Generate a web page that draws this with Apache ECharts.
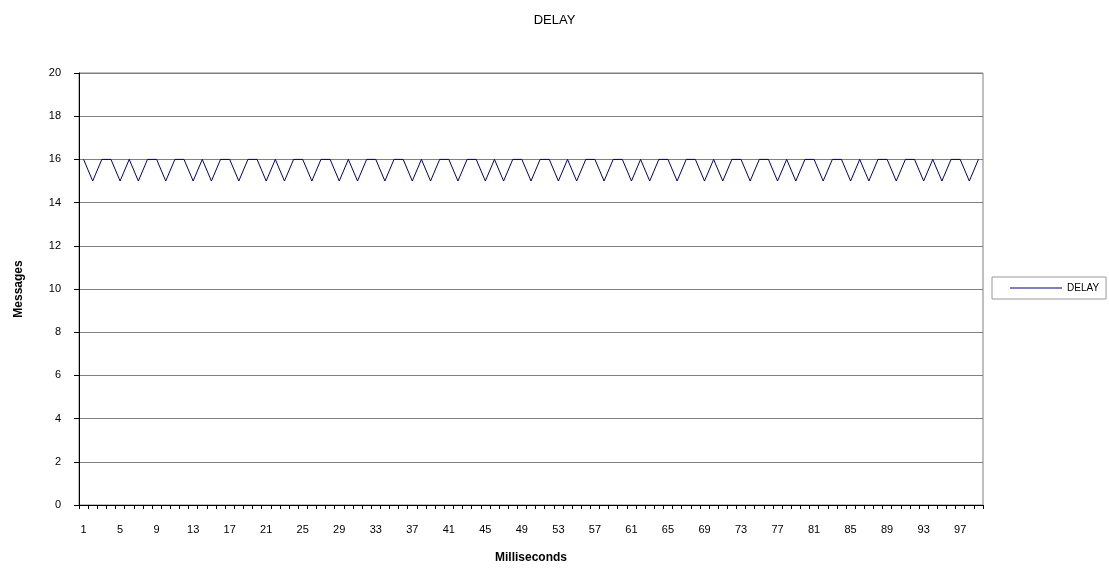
<!DOCTYPE html>
<html>
<head>
<meta charset="utf-8">
<script src="https://cdn.jsdelivr.net/npm/echarts@6/dist/echarts.min.js"></script>
<style>
  html, body { margin: 0; padding: 0; background: #fff; }
  #chart { width: 1109px; height: 568px; }
</style>
</head>
<body>
<div id="chart"></div>
<script>
// Sample index (milliseconds) 1..99
const milliseconds = [
  1, 2, 3, 4, 5, 6, 7, 8, 9, 10, 11, 12, 13, 14, 15, 16, 17, 18, 19, 20,
  21, 22, 23, 24, 25, 26, 27, 28, 29, 30, 31, 32, 33, 34, 35, 36, 37, 38, 39, 40,
  41, 42, 43, 44, 45, 46, 47, 48, 49, 50, 51, 52, 53, 54, 55, 56, 57, 58, 59, 60,
  61, 62, 63, 64, 65, 66, 67, 68, 69, 70, 71, 72, 73, 74, 75, 76, 77, 78, 79, 80,
  81, 82, 83, 84, 85, 86, 87, 88, 89, 90, 91, 92, 93, 94, 95, 96, 97, 98, 99
];

// Messages delayed per millisecond
const delay = [
  16, 15, 16, 16, 15, 16, 15, 16,
  16, 15, 16, 16, 15, 16, 15, 16,
  16, 15, 16, 16, 15, 16, 15, 16,
  16, 15, 16, 16, 15, 16, 15, 16,
  16, 15, 16, 16, 15, 16, 15, 16,
  16, 15, 16, 16, 15, 16, 15, 16,
  16, 15, 16, 16, 15, 16, 15, 16,
  16, 15, 16, 16, 15, 16, 15, 16,
  16, 15, 16, 16, 15, 16, 15, 16,
  16, 15, 16, 16, 15, 16, 15, 16,
  16, 15, 16, 16, 15, 16, 15, 16,
  16, 15, 16, 16, 15, 16, 15, 16,
  16, 15, 16
];

const yTicks = [0, 2, 4, 6, 8, 10, 12, 14, 16, 18, 20];

const FONT = '"Liberation Sans", Arial, sans-serif';

const chart = echarts.init(document.getElementById('chart'), null, { renderer: 'canvas' });

chart.setOption({
  animation: false,
  backgroundColor: '#ffffff',
  title: {
    text: 'DELAY',
    left: 'center',
    top: 9,
    textStyle: { fontFamily: FONT, fontSize: 13, fontWeight: 'normal', color: '#000' }
  },
  legend: {
    data: [{ name: 'DELAY', icon: 'rect' }],
    left: 992,
    top: 277,
    orient: 'horizontal',
    padding: [6, 7, 6, 18],
    borderColor: '#999',
    borderWidth: 1,
    itemWidth: 52,
    itemHeight: 1,
    itemStyle: { color: '#000080', borderWidth: 0 },
    textStyle: { fontFamily: FONT, fontSize: 10, color: '#000', lineHeight: 10 }
  },
  grid: {
    left: 79,
    top: 73,
    width: 904,
    height: 432,
    show: true,
    borderColor: '#808080',
    borderWidth: 1,
    containLabel: false,
    outerBoundsMode: 'none'
  },
  xAxis: {
    type: 'category',
    data: milliseconds,
    boundaryGap: true,
    name: 'Milliseconds',
    nameLocation: 'middle',
    nameGap: 47,
    nameTextStyle: { fontFamily: FONT, fontSize: 12, fontWeight: 'bold', color: '#000' },
    axisLine: { show: true, lineStyle: { color: '#000', width: 1 } },
    axisTick: { show: true, interval: 0, length: 4, inside: false, lineStyle: { color: '#000' } },
    axisLabel: {
      interval: 3,
      margin: 19,
      fontFamily: FONT,
      fontSize: 11,
      color: '#000'
    },
    splitLine: { show: false }
  },
  yAxis: {
    type: 'value',
    min: yTicks[0],
    max: yTicks[yTicks.length - 1],
    interval: 2,
    name: 'Messages',
    nameLocation: 'middle',
    nameGap: 54,
    nameRotate: 90,
    nameTextStyle: { fontFamily: FONT, fontSize: 12, fontWeight: 'bold', color: '#000' },
    axisLine: { show: true, lineStyle: { color: '#000', width: 1 } },
    axisTick: { show: true, length: 5, lineStyle: { color: '#000' } },
    axisLabel: { margin: 18, fontFamily: FONT, fontSize: 11, color: '#000' },
    splitLine: { show: true, lineStyle: { color: '#808080', width: 1 } }
  },
  series: [{
    name: 'DELAY',
    type: 'line',
    data: delay,
    symbol: 'none',
    color: '#000080',
    lineStyle: { color: '#000080', width: 1 }
  }]
});
</script>
</body>
</html>
